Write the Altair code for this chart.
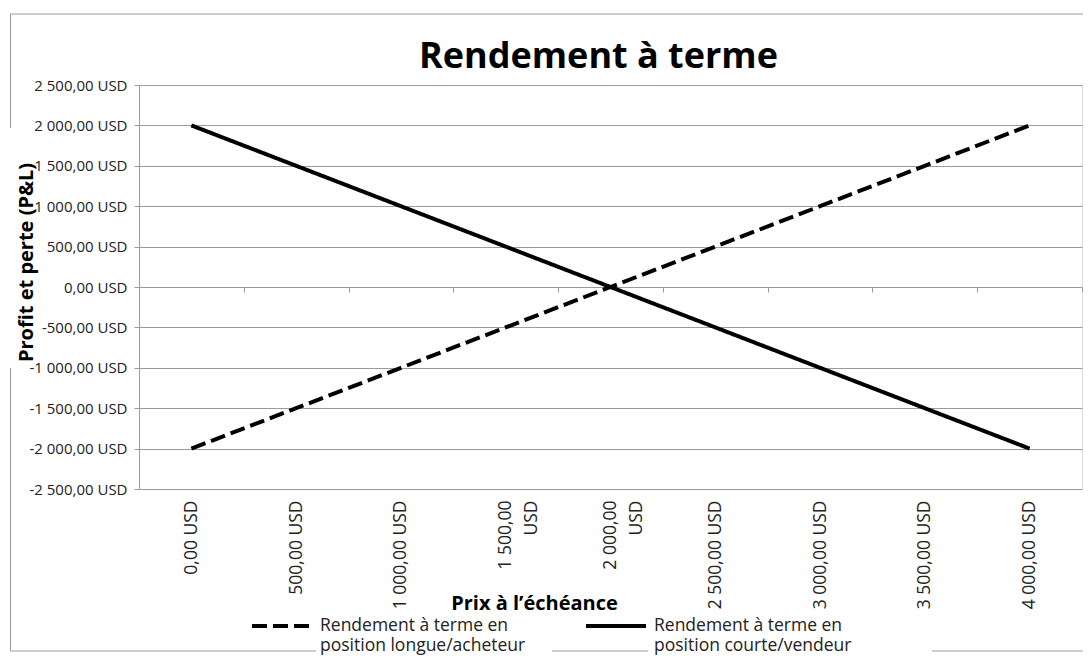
import altair as alt
import pandas as pd

# ---- data ----
prix = [0, 500, 1000, 1500, 2000, 2500, 3000, 3500, 4000]
long_pnl = [-2000, -1500, -1000, -500, 0, 500, 1000, 1500, 2000]
short_pnl = [2000, 1500, 1000, 500, 0, -500, -1000, -1500, -2000]
series = ["long", "short"]
series_labels = {
    "long": ["Rendement à terme en", "position longue/acheteur"],
    "short": ["Rendement à terme en", "position courte/vendeur"],
}
y_ticks = [-2500, -2000, -1500, -1000, -500, 0, 500, 1000, 1500, 2000, 2500]

rows = []
for p, lv, sv in zip(prix, long_pnl, short_pnl):
    rows.append({"prix": p, "pnl": lv, "serie": "long"})
    rows.append({"prix": p, "pnl": sv, "serie": "short"})
df = pd.DataFrame(rows)

FONT = "Open Sans"
GRID = "#9c9c9c"
W, H = 943, 404

num = "replace(replace(format(abs(datum.value), ',.2f'), regexp(',', 'g'), ' '), '.', ',')"
y_expr = f"(datum.value < 0 ? '-' : '') + {num} + ' USD'"
x_expr = (
    "(!isValid(datum.value) || isNaN(datum.value)) ? '' : "
    f"((datum.value == 1500 || datum.value == 2000) ? [{num}, 'USD'] : {num} + ' USD')"
)
leg_expr = (
    "datum.value == 'long' ? "
    f"['{series_labels['long'][0]}', '{series_labels['long'][1]}'] : "
    f"['{series_labels['short'][0]}', '{series_labels['short'][1]}']"
)

lines = alt.Chart(df).mark_line(strokeWidth=4, color="black").encode(
    x=alt.X(
        "prix:O",
        sort=prix,
        scale=alt.Scale(paddingInner=0, paddingOuter=0),
        axis=alt.Axis(
            title="Prix à l’échéance",
            orient="bottom",
            offset=-H / 2,
            domain=True,
            domainColor=GRID,
            ticks=True,
            tickColor=GRID,
            tickSize=5,
            tickBand="extent",
            grid=False,
            labelAngle=-90,
            labelAlign="right",
            labelBaseline="middle",
            labelPadding=H / 2 + 6,
            labelExpr=x_expr,
            labelFont=FONT,
            labelFontSize=17.5,
            labelColor="#222",
            labelLineHeight=26,
            titleFont=FONT,
            titleFontSize=20,
            titleFontWeight="bold",
            titleColor="black",
            titleX=395,
            titleY=316,
            titleAlign="center",
            titleBaseline="middle",
        ),
    ),
    y=alt.Y(
        "pnl:Q",
        scale=alt.Scale(domain=[-2500, 2500], nice=False),
        axis=alt.Axis(
            values=y_ticks,
            labelExpr=y_expr,
            domain=True,
            domainColor=GRID,
            ticks=True,
            tickColor=GRID,
            tickSize=5,
            grid=True,
            gridColor=GRID,
            gridWidth=1,
            labelFont=FONT,
            labelFontSize=15,
            labelColor="#222",
            labelPadding=7,
            title="Profit et perte (P&L)",
            titleFont=FONT,
            titleFontSize=20,
            titleFontWeight="bold",
            titleColor="black",
            titleX=-113,
            titleY=177,
            titleAngle=-90,
            titleAlign="center",
            titleBaseline="middle",
        ),
    ),
    strokeDash=alt.StrokeDash(
        "serie:N",
        scale=alt.Scale(domain=series, range=[[15, 6], [1, 0]]),
        legend=alt.Legend(
            title=None,
            orient="none",
            direction="horizontal",
            legendX=111,
            legendY=509,
            symbolType="stroke",
            symbolSize=3600,
            symbolStrokeWidth=4,
            symbolStrokeColor="black",
            labelExpr=leg_expr,
            labelFont=FONT,
            labelFontSize=17.5,
            labelColor="#222",
            labelLimit=400,
            labelOffset=6,
            columnPadding=52,
        ),
    ),
)

def seg(x1, x2, y1, y2):
    return alt.Chart(alt.Data(values=[{}])).mark_rule(color=GRID, strokeWidth=1).encode(
        x=alt.value(x1), x2=alt.value(x2), y=alt.value(y1), y2=alt.value(y2)
    )

border = [
    seg(-129, 944, -71, -71),
    seg(-128.5, -128.5, -71, 43),
    seg(-128.5, -128.5, 283, 566),
    seg(-129, 177, 566, 566),
    seg(413, 509, 566, 566),
    seg(793, 944, 566, 566),
]

chart = alt.layer(*border, lines).properties(
    width=W,
    height=H,
    title=alt.TitleParams(
        "Rendement à terme",
        font=FONT,
        fontSize=36,
        fontWeight="bold",
        color="black",
        anchor="middle",
        dx=-12,
        dy=90,
        baseline="alphabetic",
        offset=0,
    ),
    padding={"left": 131, "top": 77, "right": 1, "bottom": 167},
    autosize=alt.AutoSizeParams(type="none"),
).configure_view(stroke=None).configure(background="white")

chart.save("out.html", embed_options={"renderer": "svg", "actions": False})
